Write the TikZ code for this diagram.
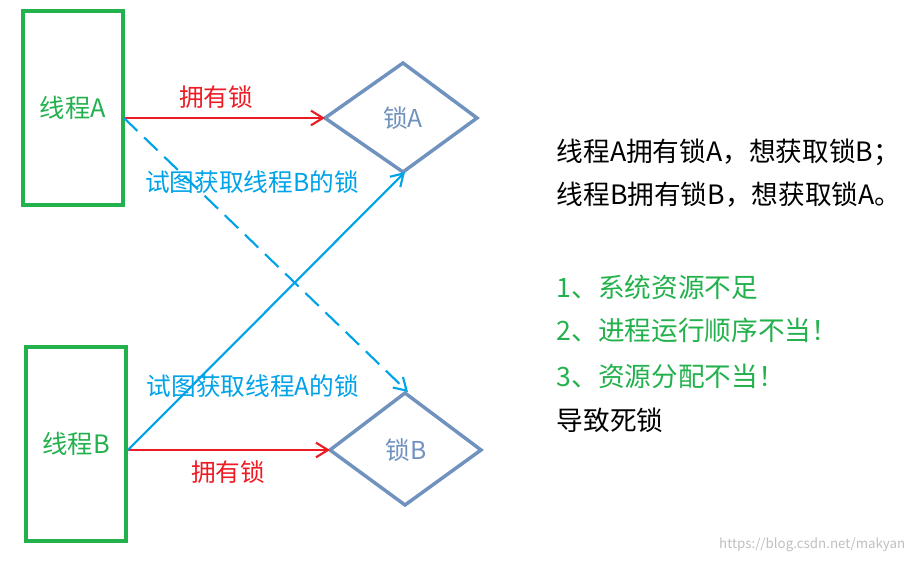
\documentclass[tikz,border=0pt]{standalone}
\usepackage{fontspec}
\setmainfont{Noto Sans CJK SC}
\usetikzlibrary{arrows.meta}
\definecolor{gr}{HTML}{22B14C}
\definecolor{rd}{HTML}{ED1C24}
\definecolor{bl}{HTML}{00A2E8}
\definecolor{dm}{HTML}{7092BE}
\tikzset{
 box/.style={draw=gr,line width=3pt,minimum width=75pt,minimum height=145pt,text=gr,font=\fontsize{19}{22}\selectfont},
 lbl/.style={font=\fontsize{18.5}{22}\selectfont},
 rt/.style={font=\fontsize{20}{24}\selectfont,anchor=west},
 arr/.style={line width=1.6pt,-{Straight Barb[length=9pt,width=11pt]}}
}
\begin{document}
\begin{tikzpicture}[x=0.75pt,y=-0.75pt]
\useasboundingbox (0,0) rectangle (915,563);
\node[box] (ta) at (73,108) {线程A};
\node[box] (tb) at (76,444) {线程B};
\draw[dm,line width=2.6pt] (325,118) -- (403,63) -- (477,118) -- (403,172) -- cycle;
\draw[dm,line width=2.6pt] (330,450) -- (405,393) -- (481,450) -- (405,505) -- cycle;
\coordinate (la) at (325,118);
\coordinate (lb) at (330,450);
\coordinate (lat) at (405,172);
\coordinate (lbt) at (408,392);
\node[text=dm,lbl] (lA) at (403,118) {锁A};
\node[text=dm,lbl] (lB) at (406,450) {锁B};
\coordinate (sa) at (124,118);
\coordinate (sb) at (128,450);
\draw[arr,rd] (sa) -- (la);
\draw[arr,rd] (sb) -- (lb);
\draw[arr,bl] (sb) -- (lat);
\draw[arr,bl,dash pattern=on 14pt off 7pt] (sa) -- (lbt);
\node[text=rd,lbl] at (216,97) {拥有锁};
\node[text=rd,lbl] at (228,472) {拥有锁};
\node[text=bl,lbl] at (252,182) {试图获取线程B的锁};
\node[text=bl,lbl] at (253,386) {试图获取线程A的锁};
\node[rt] at (552,152) {线程A拥有锁A，想获取锁B；};
\node[rt] at (552,195) {线程B拥有锁B，想获取锁A。};
\node[rt,text=gr] at (552,287) {1、系统资源不足};
\node[rt,text=gr] at (552,330) {2、进程运行顺序不当！};
\node[rt,text=gr] at (552,376) {3、资源分配不当！};
\node[rt] at (552,420) {导致死锁};
\node[text=gray!50,font=\fontsize{10}{11}\selectfont,anchor=east] at (910,545) {https://blog.csdn.net/makyan};
\end{tikzpicture}
\end{document}
